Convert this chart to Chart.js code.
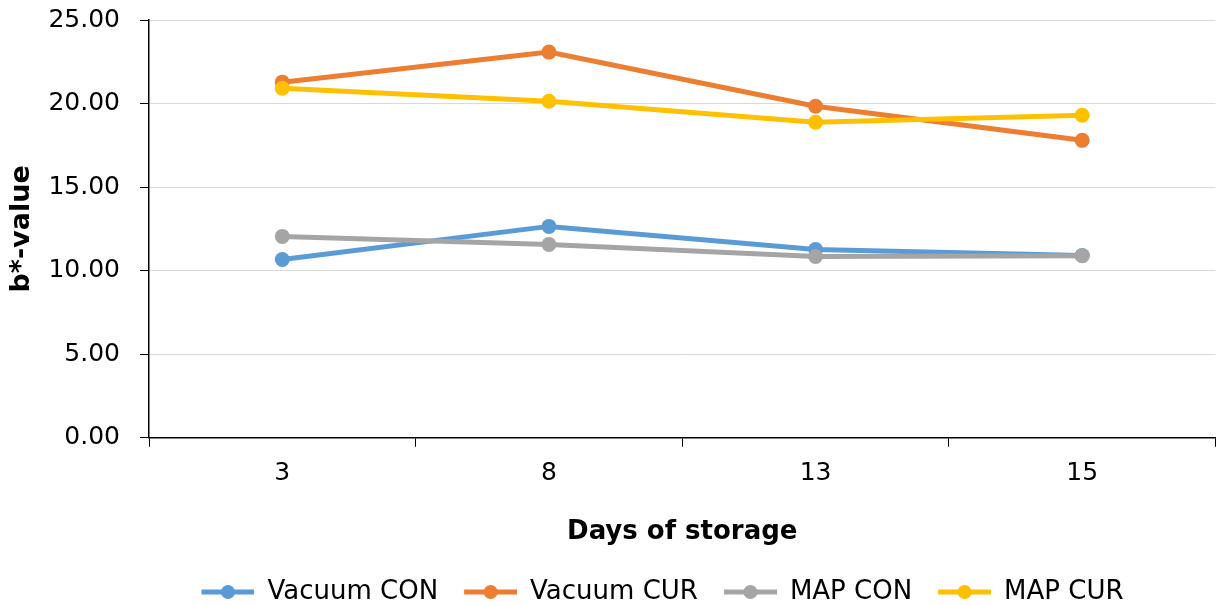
<!DOCTYPE html>
<html><head><meta charset="utf-8">
<script src="https://cdn.jsdelivr.net/npm/chart.js@4/dist/chart.umd.min.js"></script>
<style>html,body{margin:0;padding:0;background:#fff}</style>
</head><body>
<canvas id="c" width="1223" height="605"></canvas>
<script>
const categories = ['3', '8', '13', '15'];
const vacuumCON = [10.67, 12.65, 11.27, 10.91];
const vacuumCUR = [21.28, 23.08, 19.84, 17.80];
const mapCON = [12.05, 11.57, 10.85, 10.90];
const mapCUR = [20.92, 20.14, 18.88, 19.30];
const seriesNames = ['Vacuum CON', 'Vacuum CUR', 'MAP CON', 'MAP CUR'];
const seriesColors = ['#5B9BD5', '#ED7D31', '#A5A5A5', '#FFC000'];
const yMin = 0, yMax = 25, yStep = 5;

const FONT = "Verdana, 'DejaVu Sans', sans-serif";

function legendMarker(color) {
  const c = document.createElement('canvas');
  c.width = 70; c.height = 16;
  const g = c.getContext('2d');
  g.strokeStyle = color; g.lineWidth = 5; g.lineCap = 'butt';
  g.beginPath(); g.moveTo(17, 8); g.lineTo(70, 8); g.stroke();
  g.fillStyle = color;
  g.beginPath(); g.arc(43.5, 8, 7, 0, Math.PI * 2); g.fill();
  return c;
}

const allValues = [vacuumCON, vacuumCUR, mapCON, mapCUR];
const datasets = allValues.map((vals, i) => ({
  label: seriesNames[i],
  data: vals,
  borderColor: seriesColors[i],
  backgroundColor: seriesColors[i],
  borderWidth: 5,
  pointRadius: 7.5,
  pointHoverRadius: 7.5,
  pointBorderWidth: 0,
  pointBackgroundColor: seriesColors[i],
  tension: 0,
  fill: false,
  order: allValues.length - i,
  pointStyle: 'circle',
  _marker: legendMarker(seriesColors[i])
}));

const legendShift = {
  id: 'legendShift',
  beforeDraw(chart) {
    const lg = chart.legend;
    if (lg && !lg._shifted) {
      lg.left += 44; lg.right += 44;
      lg.top += 10; lg.bottom += 10;
      lg._shifted = true;
    }
  }
};

new Chart(document.getElementById('c'), {
  type: 'line',
  data: { labels: categories, datasets },
  plugins: [legendShift],
  options: {
    responsive: false,
    animation: false,
    events: [],
    layout: { padding: { left: 0, right: 3, top: 20, bottom: 0 } },
    plugins: {
      tooltip: { enabled: false },
      legend: {
        position: 'bottom',
        labels: {
          usePointStyle: true,
          pointStyleWidth: 70,
          padding: 9,
          color: '#000',
          font: { family: FONT, size: 26 },
          sort: (a, b) => a.datasetIndex - b.datasetIndex,
          generateLabels(chart) {
            return chart.data.datasets.map((ds, i) => ({
              text: ds.label,
              fillStyle: ds.borderColor,
              strokeStyle: ds.borderColor,
              lineWidth: 0,
              pointStyle: ds._marker,
              hidden: false,
              datasetIndex: i,
              fontColor: '#000'
            }));
          }
        }
      }
    },
    scales: {
      x: {
        type: 'category',
        offset: true,
        grid: {
          offset: true,
          drawOnChartArea: false,
          drawTicks: true,
          tickLength: 9,
          color: '#000',
          tickColor: '#000'
        },
        border: { display: true, color: '#000', width: 1.5 },
        ticks: { color: '#000', padding: 12, font: { family: FONT, size: 25 } },
        title: {
          display: true,
          text: 'Days of storage',
          color: '#000',
          font: { family: FONT, size: 26, weight: 'bold' },
          padding: { top: 16, bottom: 12 }
        }
      },
      y: {
        min: yMin,
        max: yMax,
        afterFit(scale) { scale.width = 149; scale.paddingTop = 0; },
        grid: {
          color: '#d9d9d9',
          lineWidth: 1,
          drawTicks: true,
          tickLength: 9,
          tickColor: '#000'
        },
        border: { display: true, color: '#000', width: 1.5 },
        ticks: {
          stepSize: yStep,
          color: '#000',
          padding: 20,
          font: { family: FONT, size: 25 },
          callback: v => Number(v).toFixed(2)
        },
        title: {
          display: true,
          text: 'b*-value',
          color: '#000',
          font: { family: FONT, size: 27, weight: 'bold' },
          padding: { top: 6, bottom: 0 }
        }
      }
    }
  }
});
</script>
</body></html>
